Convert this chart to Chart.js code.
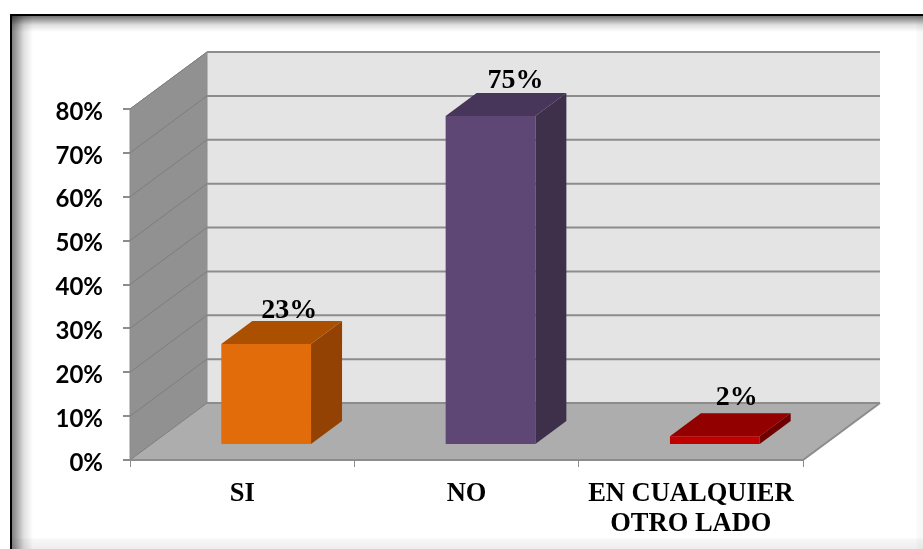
<!DOCTYPE html>
<html>
<head>
<meta charset="utf-8">
<style>
  html, body { margin: 0; padding: 0; background: #fff; overflow: hidden; }
  #wrap { position: relative; width: 923px; height: 549px; }
  #frame {
    position: absolute; left: 10px; top: 14px; right: 0; bottom: 0;
    box-sizing: border-box;
    border-left: 2px solid #000; border-top: 2px solid #000;
    background:
      linear-gradient(to right, rgba(0,0,0,.5), rgba(0,0,0,.12) 12px, rgba(0,0,0,0) 21px),
      linear-gradient(to bottom, rgba(0,0,0,.55), rgba(0,0,0,.12) 9px, rgba(0,0,0,0) 16px),
      linear-gradient(to left, rgba(0,0,0,.03), rgba(0,0,0,.02) 6px, rgba(0,0,0,0) 7px),
      linear-gradient(to top, rgba(0,0,0,.07), rgba(0,0,0,.03) 10px, rgba(0,0,0,0) 11px);
  }
  canvas { position: absolute; left: 0; top: 0; }
</style>
<script src="https://cdn.jsdelivr.net/npm/chart.js@4"></script>
</head>
<body>
<div id="wrap">
  <div id="frame"></div>
  <canvas id="chart" width="923" height="549"></canvas>
</div>
<script>
const categories = [['SI'], ['NO'], ['EN CUALQUIER', 'OTRO LADO']];
const values = [23, 75, 2];
const valueLabels = ['23%', '75%', '2%'];
const tickLabels = ['0%', '10%', '20%', '30%', '40%', '50%', '60%', '70%', '80%'];

const frontColors = ['#e36c0a', '#5f4775', '#c00000'];
const topColors = ['#ab5000', '#47355a', '#920000'];
const sideColors = ['#934204', '#3e2f4b', '#6f0000'];

// depth of the floor / walls, and how far the bars sit behind the front edge
const depthX = 77, depthY = -57;
const barShiftX = 24, barShiftY = -15;
const barDepthX = 31, barDepthY = -23;
const labelShiftX = [23, 25, 22];
const labelLift = [26, 28, 31];
const tickLabelDrop = 3;

function poly(ctx, pts, fill, stroke, lw) {
  ctx.beginPath();
  pts.forEach((p, i) => i ? ctx.lineTo(p[0], p[1]) : ctx.moveTo(p[0], p[1]));
  ctx.closePath();
  if (fill) { ctx.fillStyle = fill; ctx.fill(); }
  if (stroke) { ctx.strokeStyle = stroke; ctx.lineWidth = lw || 1; ctx.stroke(); }
}

const walls = {
  id: 'walls',
  afterLayout(chart) {
    // the y labels sit a little under their tick marks in the picture
    const y = chart.scales.y;
    if (y.drawLabelsOrig) return;
    y.drawLabelsOrig = y.drawLabels;
    y.drawLabels = function(area) {
      this.ctx.save();
      this.ctx.translate(0, tickLabelDrop);
      this.drawLabelsOrig(area);
      this.ctx.restore();
    };
  },
  beforeDatasetsDraw(chart) {
    const { ctx, chartArea: a, scales: { y } } = chart;
    const grey = '#8c8c8c';
    ctx.save();
    // back wall
    poly(ctx, [[a.left + depthX, a.top + depthY], [a.right + depthX, a.top + depthY],
               [a.right + depthX, a.bottom + depthY], [a.left + depthX, a.bottom + depthY]], '#e4e4e4');
    // side wall
    poly(ctx, [[a.left, a.top], [a.left + depthX, a.top + depthY],
               [a.left + depthX, a.bottom + depthY], [a.left, a.bottom]], '#919191', grey, 1);
    // floor
    poly(ctx, [[a.left, a.bottom], [a.left + depthX, a.bottom + depthY],
               [a.right + depthX, a.bottom + depthY], [a.right, a.bottom]], '#adadad');
    // gridlines run along the side wall and across the back wall
    y.ticks.forEach(t => {
      const py = y.getPixelForValue(t.value);
      ctx.beginPath();
      ctx.moveTo(a.left, py);
      ctx.lineTo(a.left + depthX, py + depthY);
      ctx.strokeStyle = '#7d7d7d';
      ctx.lineWidth = 1;
      ctx.stroke();
      ctx.beginPath();
      ctx.moveTo(a.left + depthX, py + depthY);
      ctx.lineTo(a.right + depthX, py + depthY);
      ctx.strokeStyle = grey;
      ctx.lineWidth = 2;
      ctx.stroke();
    });
    // edges of the floor
    ctx.beginPath();
    ctx.moveTo(a.left, a.bottom);
    ctx.lineTo(a.right, a.bottom);
    ctx.lineTo(a.right + depthX, a.bottom + depthY);
    ctx.strokeStyle = grey;
    ctx.lineWidth = 2;
    ctx.stroke();
    ctx.restore();

    // bar sides and tops, the library draws the front face on top of them
    const bars = chart.getDatasetMeta(0).data;
    bars.forEach((b, i) => {
      const l = b.x - b.width / 2 + barShiftX, r = b.x + b.width / 2 + barShiftX;
      const t = b.y + barShiftY, bt = b.base + barShiftY;
      poly(ctx, [[r, t], [r + barDepthX, t + barDepthY], [r + barDepthX, bt + barDepthY], [r, bt]], sideColors[i]);
      poly(ctx, [[l, t], [l + barDepthX, t + barDepthY], [r + barDepthX, t + barDepthY], [r, t]], topColors[i]);
    });
    ctx.save();
    ctx.translate(barShiftX, barShiftY);
  },
  afterDatasetsDraw(chart) {
    const { ctx } = chart;
    ctx.restore();
    const bars = chart.getDatasetMeta(0).data;
    ctx.save();
    ctx.font = 'bold 28px "Liberation Serif"';
    ctx.textAlign = 'center';
    ctx.textBaseline = 'alphabetic';
    ctx.fillStyle = '#000';
    bars.forEach((b, i) => {
      ctx.fillText(valueLabels[i], b.x + barShiftX + labelShiftX[i], b.y + barShiftY - labelLift[i]);
    });
    ctx.restore();
  }
};

new Chart(document.getElementById('chart'), {
  type: 'bar',
  data: {
    labels: categories,
    datasets: [{
      data: values,
      backgroundColor: frontColors,
      barPercentage: 0.4,
      categoryPercentage: 1
    }]
  },
  options: {
    responsive: false,
    animation: false,
    layout: { padding: { left: 0, top: 109, right: 120, bottom: 0 } },
    plugins: { legend: { display: false }, tooltip: { enabled: false } },
    scales: {
      x: {
        grid: { drawOnChartArea: false, color: '#8c8c8c', tickLength: 7, lineWidth: 1 },
        border: { display: false },
        afterFit(s) { s.height = 89; },
        ticks: { color: '#000', font: { family: '"Liberation Serif"', weight: 'bold', size: 26.5, lineHeight: 1.13 }, padding: 12, maxRotation: 0, autoSkip: false }
      },
      y: {
        min: 0,
        max: 80,
        afterFit(s) { s.width = 130; },
        grid: { drawOnChartArea: false, color: '#8c8c8c', tickLength: 7, lineWidth: 2 },
        border: { display: false },
        ticks: {
          stepSize: 10,
          color: '#000',
          font: { family: 'Lato', weight: 'bold', size: 24 },
          padding: 20,
          callback: (v) => tickLabels[v / 10]
        }
      }
    }
  },
  plugins: [walls]
});
</script>
</body>
</html>
